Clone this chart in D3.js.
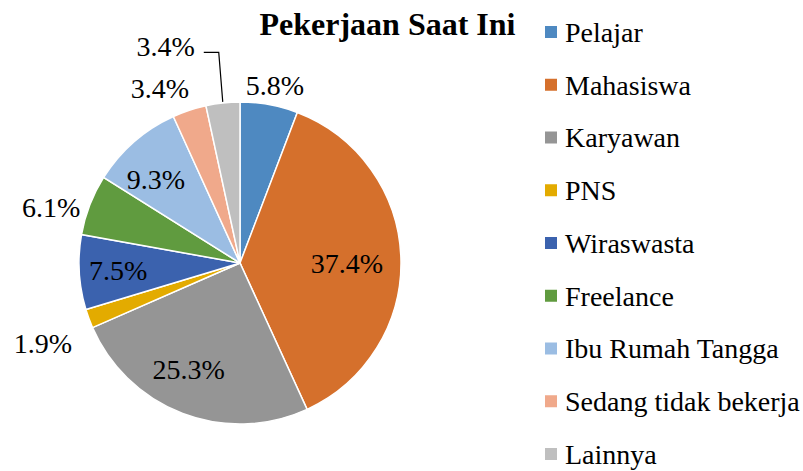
<!DOCTYPE html>
<html>
<head>
<meta charset="utf-8">
<script src="https://cdn.jsdelivr.net/npm/d3@7"></script>
</head>
<body style="margin:0">
<svg width="803" height="471"></svg>
<script>
var categories = ["Pelajar", "Mahasiswa", "Karyawan", "PNS", "Wiraswasta", "Freelance", "Ibu Rumah Tangga", "Sedang tidak bekerja", "Lainnya"];
var values = [5.8, 37.4, 25.3, 1.9, 7.5, 6.1, 9.3, 3.4, 3.4];
var colors = ["#4e89c1", "#d5702c", "#959595", "#e3ab00", "#3b62ae", "#609b3f", "#9bbde3", "#f0a98b", "#bfbfbf"];

// label placement: distance from centre and angle tweak (degrees), like Excel best fit
var labelRadius = [181, 107, 118, 213, 122, 197, 119, 192, 229];
var labelShift = [0.7, 1.8, 5, -2, 0, -4.6, -3.8, -6.3, -12.8];

var svg = d3.select("svg").style("font-family", "Liberation Serif"),
    cx = 240, cy = 263, radius = 161;

var data = categories.map(function(c, i) { return {name: c, value: values[i], i: i}; });

var pie = d3.pie().sort(null).value(function(d) { return d.value; });
var arc = d3.arc().innerRadius(0).outerRadius(radius);
var color = d3.scaleOrdinal().domain(categories).range(colors);

var g = svg.append("g").attr("transform", "translate(" + cx + "," + cy + ")");
var arcs = pie(data);

g.selectAll("path")
  .data(arcs)
  .enter().append("path")
    .attr("d", arc)
    .attr("fill", function(d) { return color(d.data.name); })
    .attr("stroke", "#fff")
    .attr("stroke-width", 1.5);

function polar(a, r) { return [r * Math.sin(a), -r * Math.cos(a)]; }

var labels = g.selectAll(".lbl")
  .data(arcs)
  .enter().append("text")
    .attr("class", "lbl")
    .style("font-family", "Liberation Serif")
    .style("font-size", "28px")
    .attr("text-anchor", "middle")
    .attr("dy", "0.35em")
    .each(function(d) {
      var mid = (d.startAngle + d.endAngle) / 2 + labelShift[d.data.i] * Math.PI / 180;
      var p = polar(mid, labelRadius[d.data.i]);
      d.lx = p[0]; d.ly = p[1];
    })
    .attr("x", function(d) { return d.lx; })
    .attr("y", function(d) { return d.ly; })
    .text(function(d) { return d.data.value.toFixed(1) + "%"; });

// leader line for the last small slice
var last = arcs[arcs.length - 1];
var end = polar((last.startAngle + last.endAngle) / 2, radius + 1);
var ly = last.ly + 6;
g.append("path")
  .attr("d", d3.line()([[last.lx + 38, ly], [end[0] - 4, ly], end]))
  .attr("fill", "none")
  .attr("stroke", "#000")
  .attr("stroke-width", 1.2);

svg.append("text")
  .style("font-family", "Liberation Serif")
  .style("font-size", "32px")
  .style("font-weight", "bold")
  .attr("x", 387.5)
  .attr("y", 35)
  .attr("text-anchor", "middle")
  .text("Pekerjaan Saat Ini");

var y = d3.scalePoint().domain(categories).range([32, 454]);

var legend = svg.selectAll(".legend")
  .data(categories)
  .enter().append("g")
    .attr("class", "legend")
    .attr("transform", function(d) { return "translate(545," + y(d) + ")"; });

legend.append("rect")
  .attr("y", -6)
  .attr("width", 12)
  .attr("height", 12)
  .attr("fill", function(d) { return color(d); });

legend.append("text")
  .style("font-family", "Liberation Serif")
  .style("font-size", "28px")
  .attr("x", 20)
  .attr("dy", "0.35em")
  .text(function(d) { return d; });
</script>
</body>
</html>
